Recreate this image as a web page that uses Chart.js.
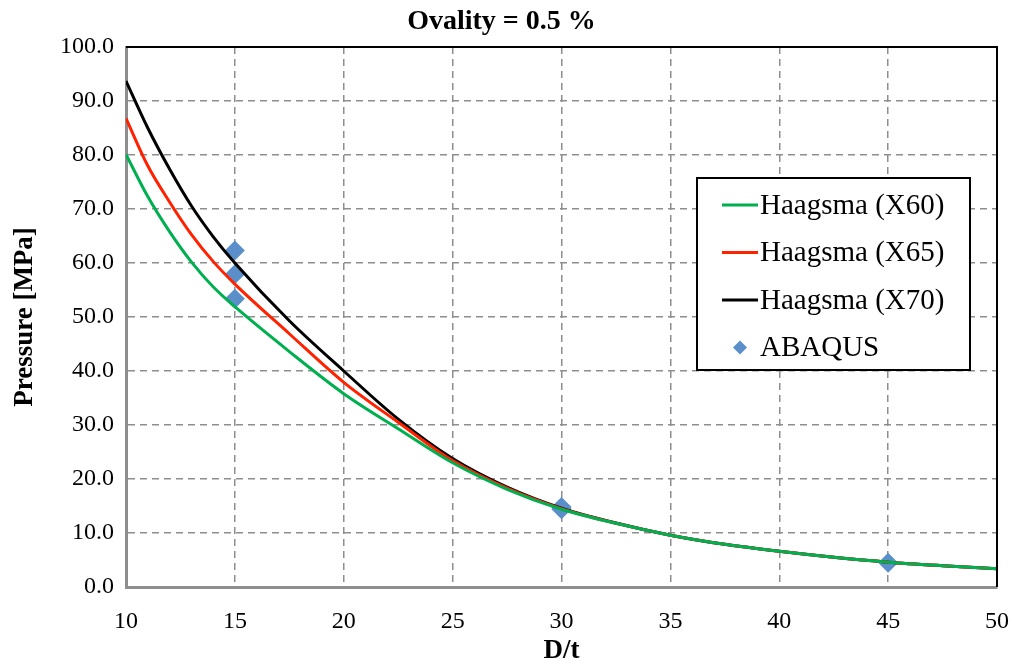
<!DOCTYPE html>
<html lang="en">
<head>
    <meta charset="UTF-8">
    <title>Ovality = 0.5 %</title>
    <style>
        html, body {
            margin: 0;
            padding: 0;
            background-color: #ffffff;
        }
        .chart-container {
            width: 1014px;
            height: 671px;
        }
    </style>
</head>
<body>
    <div class="chart-container">
        <canvas id="collapseChart" width="1014" height="671"></canvas>
    </div>
    <script src="https://cdn.jsdelivr.net/npm/chart.js"></script>
    <script>
        const dtValues = [10, 11, 12, 13, 14, 15, 17.5, 20, 22.5, 25, 27.5, 30, 32.5, 35, 37.5, 40, 42.5, 45, 47.5, 50];
        const haagsmaX60 = [80.1, 72.3, 65.8, 60.2, 55.6, 51.9, 43.6, 35.8, 29.3, 23.0, 18.1, 14.4, 11.8, 9.6, 7.9, 6.6, 5.5, 4.6, 3.95, 3.4];
        const haagsmaX65 = [86.8, 78.0, 71.3, 65.3, 60.3, 56.1, 46.9, 37.9, 30.5, 23.4, 18.3, 14.5, 11.8, 9.6, 7.9, 6.6, 5.5, 4.6, 3.95, 3.4];
        const haagsmaX70 = [93.7, 85.0, 77.4, 70.6, 64.9, 60.0, 49.3, 40.0, 31.1, 23.8, 18.5, 14.6, 11.85, 9.6, 7.9, 6.6, 5.5, 4.6, 3.95, 3.4];
        const abaqusDt = [15, 15, 15, 30, 30, 30, 45];
        const abaqusP = [62.3, 57.9, 53.4, 14.8, 14.6, 14.4, 4.5];
        const xTicks = [10, 15, 20, 25, 30, 35, 40, 45, 50];

        const fontFamily = "'Liberation Serif', 'Times New Roman', serif";

        function toPoints(xs, ys) {
            return xs.map((x, i) => ({ x: x, y: ys[i] }));
        }

        // black frame on top and right of the plot area
        const frameLines = {
            id: 'frameLines',
            afterDatasetsDraw(chart) {
                const { ctx, chartArea } = chart;
                ctx.save();
                ctx.strokeStyle = '#000000';
                ctx.lineWidth = 2;
                ctx.beginPath();
                ctx.moveTo(chartArea.left, chartArea.top);
                ctx.lineTo(chartArea.right, chartArea.top);
                ctx.lineTo(chartArea.right, chartArea.bottom);
                ctx.stroke();
                ctx.restore();
            }
        };

        // boxed legend sitting inside the plot area
        const insideLegend = {
            id: 'insideLegend',
            afterDraw(chart) {
                const { ctx, chartArea } = chart;
                const left = chartArea.right - 300;
                const top = chartArea.top + 131;
                const width = 273;
                const height = 192;
                ctx.save();
                ctx.fillStyle = '#ffffff';
                ctx.fillRect(left, top, width, height);
                ctx.strokeStyle = '#000000';
                ctx.lineWidth = 2;
                ctx.strokeRect(left, top, width, height);
                ctx.font = '29px ' + fontFamily;
                ctx.textBaseline = 'middle';
                chart.data.datasets.forEach((ds, i) => {
                    const y = top + 27 + i * 47.5;
                    if (ds.showLine === false) {
                        ctx.fillStyle = ds.backgroundColor;
                        ctx.beginPath();
                        ctx.moveTo(left + 43, y - 7);
                        ctx.lineTo(left + 50, y);
                        ctx.lineTo(left + 43, y + 7);
                        ctx.lineTo(left + 36, y);
                        ctx.closePath();
                        ctx.fill();
                    } else {
                        ctx.strokeStyle = ds.borderColor;
                        ctx.lineWidth = 3;
                        ctx.beginPath();
                        ctx.moveTo(left + 25, y);
                        ctx.lineTo(left + 61, y);
                        ctx.stroke();
                    }
                    ctx.fillStyle = '#000000';
                    ctx.fillText(ds.label, left + 63, y + 1);
                });
                ctx.restore();
            }
        };

        const ctx = document.getElementById('collapseChart').getContext('2d');
        const collapseChart = new Chart(ctx, {
            type: 'scatter',
            data: {
                datasets: [
                    {
                        label: 'Haagsma (X60)',
                        data: toPoints(dtValues, haagsmaX60),
                        showLine: true,
                        borderColor: '#00b050',
                        backgroundColor: '#00b050',
                        borderWidth: 3,
                        pointRadius: 0,
                        cubicInterpolationMode: 'monotone',
                    },
                    {
                        label: 'Haagsma (X65)',
                        data: toPoints(dtValues, haagsmaX65),
                        showLine: true,
                        borderColor: '#ff2200',
                        backgroundColor: '#ff2200',
                        borderWidth: 3,
                        pointRadius: 0,
                        cubicInterpolationMode: 'monotone',
                    },
                    {
                        label: 'Haagsma (X70)',
                        data: toPoints(dtValues, haagsmaX70),
                        showLine: true,
                        borderColor: '#000000',
                        backgroundColor: '#000000',
                        borderWidth: 3,
                        pointRadius: 0,
                        cubicInterpolationMode: 'monotone',
                    },
                    {
                        label: 'ABAQUS',
                        data: toPoints(abaqusDt, abaqusP),
                        showLine: false,
                        pointStyle: 'rectRot',
                        pointRadius: 10,
                        backgroundColor: '#5b8fc9',
                        borderColor: '#5b8fc9',
                        borderWidth: 0,
                    }
                ]
            },
            options: {
                responsive: false,
                animation: false,
                layout: {
                    padding: { left: 6, right: 17, top: 4, bottom: 4 }
                },
                plugins: {
                    legend: { display: false },
                    tooltip: { enabled: false },
                    title: {
                        display: true,
                        text: 'Ovality = 0.5 %',
                        color: '#000000',
                        font: { family: fontFamily, size: 28, weight: 'bold' },
                        padding: { top: 1, bottom: 8.4 }
                    }
                },
                scales: {
                    x: {
                        type: 'linear',
                        min: 10,
                        max: 50,
                        afterBuildTicks(scale) {
                            scale.ticks = xTicks.map(v => ({ value: v }));
                        },
                        afterFit(scale) {
                            scale.height = 80;
                            // the tick padding would otherwise widen the right margin
                            scale.paddingRight = 0;
                        },
                        grid: {
                            color: '#8e8e8e',
                            lineWidth: 1.5,
                            drawTicks: false,
                        },
                        border: {
                            color: '#8e8e8e',
                            width: 3,
                            dash: [7, 5],
                        },
                        ticks: {
                            color: '#000000',
                            padding: 20,
                            maxRotation: 0,
                            font: { family: fontFamily, size: 24 }
                        },
                        title: {
                            display: true,
                            text: 'D/t',
                            color: '#000000',
                            padding: { top: 2, bottom: 0 },
                            font: { family: fontFamily, size: 27, weight: 'bold' }
                        }
                    },
                    y: {
                        min: 0,
                        max: 100,
                        afterFit(scale) {
                            scale.width = 120;
                        },
                        grid: {
                            color: '#8e8e8e',
                            lineWidth: 1.5,
                            drawTicks: false,
                        },
                        border: {
                            color: '#8e8e8e',
                            width: 3,
                            dash: [7, 5],
                        },
                        ticks: {
                            stepSize: 10,
                            color: '#000000',
                            padding: 12,
                            font: { family: fontFamily, size: 24 },
                            callback: value => value.toFixed(1)
                        },
                        title: {
                            display: true,
                            text: 'Pressure [MPa]',
                            color: '#000000',
                            padding: { top: 3, bottom: 4 },
                            font: { family: fontFamily, size: 27, weight: 'bold' }
                        }
                    }
                }
            },
            plugins: [frameLines, insideLegend]
        });
    </script>
</body>
</html>
